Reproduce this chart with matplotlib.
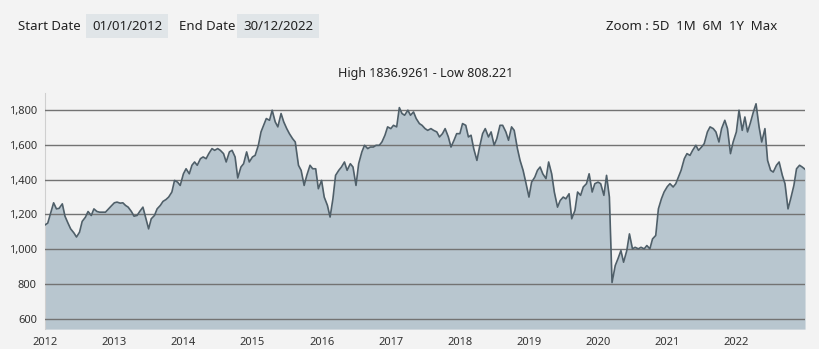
import matplotlib.pyplot as plt
import matplotlib.dates as mdates
from matplotlib.ticker import FuncFormatter
import pandas as pd

plt.rcParams['font.family'] = ['Noto Sans', 'DejaVu Sans']

# semi-monthly closes, Jan 2012 .. Dec 2022
values = [
    1140, 1150, 1213, 1267, 1232, 1235, 1261, 1190, 1150, 1117, 1094, 1070,
    1098, 1160, 1184, 1217, 1194, 1232, 1217, 1213, 1213, 1213, 1232, 1248,
    1267, 1271, 1265, 1267, 1252, 1242, 1217, 1190, 1194, 1217, 1242, 1184,
    1117, 1175, 1194, 1232, 1252, 1275, 1286, 1300, 1329, 1396, 1386, 1367,
    1434, 1463, 1434, 1483, 1502, 1483, 1521, 1531, 1521, 1550, 1579, 1569,
    1579, 1569, 1550, 1502, 1560, 1569, 1531, 1410, 1473, 1492, 1560, 1502,
    1531, 1540, 1598, 1675, 1713, 1752, 1742, 1800, 1733, 1704, 1781, 1733,
    1694, 1665, 1636, 1617, 1483, 1454, 1367, 1425, 1483, 1463, 1463, 1348,
    1396, 1300, 1252, 1185, 1290, 1425, 1454, 1473, 1502, 1454, 1492, 1473,
    1367, 1492, 1560, 1598, 1579, 1588, 1588, 1598, 1598, 1617, 1656, 1704,
    1694, 1713, 1704, 1815, 1781, 1771, 1800, 1771, 1790, 1752, 1723, 1713,
    1694, 1684, 1694, 1684, 1675, 1646, 1665, 1694, 1646, 1588, 1627, 1665,
    1665, 1723, 1713, 1646, 1656, 1579, 1511, 1588, 1665, 1694, 1646, 1675,
    1598, 1636, 1713, 1713, 1675, 1627, 1704, 1684, 1579, 1511, 1454, 1386,
    1300, 1386, 1415, 1454, 1473, 1434, 1406, 1502, 1434, 1329, 1242, 1280,
    1300, 1290, 1319, 1175, 1223, 1329, 1310, 1358, 1377, 1434, 1329, 1377,
    1386, 1377, 1310, 1425, 1300, 808, 906, 944, 992, 925, 992, 1088,
    1002, 1011, 1002, 1011, 1002, 1021, 1002, 1059, 1079, 1232, 1290, 1329,
    1360, 1377, 1358, 1377, 1415, 1454, 1521, 1550, 1540, 1569, 1598, 1569,
    1588, 1607, 1675, 1704, 1694, 1675, 1617, 1694, 1742, 1694, 1550, 1617,
    1675, 1800, 1684, 1761, 1675, 1723, 1790, 1837, 1704, 1617, 1694, 1511,
    1454, 1444, 1483, 1502, 1425, 1377, 1232, 1290, 1367, 1463, 1483, 1473,
    1460,
]
dates = list(pd.date_range('2012-01-01', periods=len(values) - 1, freq='SMS')) + [pd.Timestamp('2022-12-30')]

y_ticks = [600, 800, 1000, 1200, 1400, 1600, 1800]
years = list(range(2012, 2023))

bg = '#f3f3f3'
fig = plt.figure(figsize=(8.2, 3.49), dpi=100, facecolor=bg)
ax = fig.add_axes([0.055, 0.057, 0.927, 0.677])
ax.set_facecolor(bg)

ax.fill_between(dates, values, 540, color='#b8c6cf', lw=0, zorder=1)
ax.plot(dates, values, color='#4f5f69', lw=1.2, zorder=3)

ax.set_ylim(540, 1900)
ax.set_xlim(pd.Timestamp('2012-01-01'), pd.Timestamp('2022-12-31'))
ax.set_yticks(y_ticks)
ax.yaxis.set_major_formatter(FuncFormatter(lambda v, p: f'{int(v):,}'))
ax.set_xticks([pd.Timestamp(f'{y}-01-01') for y in years])
ax.xaxis.set_major_formatter(mdates.DateFormatter('%Y'))
ax.grid(axis='y', color=(0.45, 0.45, 0.45, 0.15), lw=1, zorder=2)
ax.set_axisbelow(False)
ax.tick_params(length=0, labelsize=8, colors='#333333', pad=6)
for s in ['top', 'right', 'bottom']:
    ax.spines[s].set_visible(False)
ax.spines['left'].set_color('#cfcfcf')
ax.spines['left'].set_linewidth(0.8)

# header
hdr = dict(fontsize=9.5, color='#222222', va='center')
box = dict(boxstyle='square,pad=0.45', fc='#e0e5e8', ec='none')
fig.text(18 / 820, 1 - 26 / 349, 'Start Date', **hdr)
fig.text(92 / 820, 1 - 26 / 349, '01/01/2012', bbox=box, **hdr)
fig.text(179 / 820, 1 - 26 / 349, 'End Date', **hdr)
fig.text(243 / 820, 1 - 26 / 349, '30/12/2022', bbox=box, **hdr)
fig.text(606 / 820, 1 - 27 / 349, 'Zoom : 5D  1M  6M  1Y  Max', **hdr)
fig.text(426 / 820, 1 - 73 / 349, 'High 1836.9261 - Low 808.221', fontsize=9,
         color='#222222', ha='center', va='center')

fig.savefig('out.png', dpi=100, facecolor=bg)
